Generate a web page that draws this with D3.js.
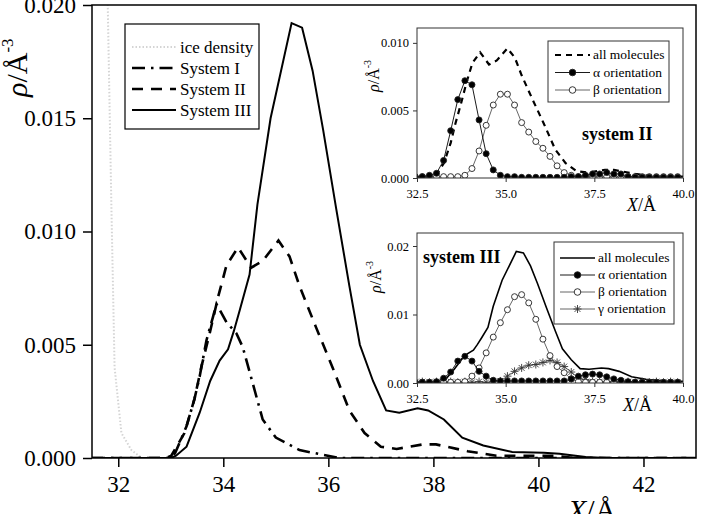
<!DOCTYPE html>
<html>
<head>
<meta charset="utf-8">
<script src="https://cdnjs.cloudflare.com/ajax/libs/d3/7.8.5/d3.min.js"></script>
<style>
  body { margin: 0; background: #fff; }
  svg { font-family: "Liberation Serif", "Times New Roman", serif; }
</style>
</head>
<body>
<svg width="703" height="514"></svg>
<script>
// ---- main plot data (X in angstrom, rho in A^-3) ----
var iceX   = [31.5, 31.7, 31.8, 31.87, 31.93, 32.06, 32.25, 32.45, 33.0];
var iceRho = [0.035, 0.026, 0.020, 0.011, 0.004, 0.0011, 0.00035, 0, 0];

var sys1X   = [31.5, 32.95, 33.08, 33.3, 33.45, 33.55, 33.68, 33.8, 33.87, 34.06, 34.25, 34.37, 34.56, 34.75, 35.0, 35.45, 36.2, 43];
var sys1Rho = [0, 0, 0.0002, 0.0014, 0.0026, 0.0036, 0.0052, 0.0062, 0.0068, 0.0060, 0.0055, 0.0049, 0.0033, 0.0017, 0.0009, 0.00035, 0, 0];

var sys2X   = [31.5, 32.9, 33.01, 33.26, 33.45, 33.58, 33.74, 33.9, 34.06, 34.28, 34.53, 34.75, 35.05, 35.26, 35.45, 35.76, 36.08, 36.4, 36.69, 37.0, 37.3, 37.8, 38.05, 38.65, 39.2, 40.3, 40.7, 43];
var sys2Rho = [0, 0, 0.0001, 0.0011, 0.0026, 0.0040, 0.0055, 0.0071, 0.0085, 0.0093, 0.0084, 0.0087, 0.0096, 0.0089, 0.0076, 0.0058, 0.0040, 0.0021, 0.0011, 0.0005, 0.0004, 0.0006, 0.0006, 0.0003, 0.0001, 0.0001, 0, 0];

var sys3X   = [31.5, 33.0, 33.1, 33.3, 33.55, 33.75, 33.93, 34.09, 34.2, 34.31, 34.5, 34.65, 34.9, 35.3, 35.5, 35.7, 35.9, 36.15, 36.4, 36.6, 36.85, 37.1, 37.35, 37.7, 37.9, 38.2, 38.55, 38.95, 39.5, 40.1, 40.4, 40.9, 41.3, 43];
var sys3Rho = [0, 0, 0.0001, 0.0005, 0.0020, 0.0034, 0.0043, 0.0048, 0.0056, 0.0065, 0.0081, 0.0112, 0.0150, 0.0192, 0.0190, 0.0171, 0.0145, 0.0110, 0.0076, 0.0050, 0.0034, 0.0021, 0.0020, 0.0022, 0.0021, 0.0017, 0.0009, 0.00055, 0.00027, 0.00023, 0.00019, 0.00004, 0, 0];

var mainXTicks = [32, 34, 36, 38, 40, 42];
var mainYTicks = [0, 0.005, 0.010, 0.015, 0.020];
var mainLegend = ["ice density", "System I", "System II", "System III"];

// ---- inset data: orientation-resolved densities on a 0.2 A grid ----
var gridX = [32.45, 32.65, 32.85, 33.05, 33.25, 33.45, 33.65, 33.85, 34.05, 34.25,
             34.45, 34.65, 34.85, 35.05, 35.25, 35.45, 35.65, 35.85, 36.05, 36.25,
             36.45, 36.65, 36.85, 37.05, 37.25, 37.45, 37.65, 37.85, 38.05, 38.25,
             38.45, 38.65, 38.85, 39.05, 39.25, 39.45, 39.65, 39.85];

var alphaII = [0.0001, 0.0001, 0.0002, 0.00035, 0.0013, 0.0035, 0.0058, 0.0072, 0.0069, 0.0043,
               0.0018, 0.0006, 0.0002, 0.0001, 0.0001, 0.00005, 0.00005, 0.00005, 0.00005, 0.00005,
               0.00005, 0.00005, 0.0001, 0.0001, 0.0002, 0.0003, 0.0003, 0.0004, 0.0003, 0.0003,
               0.0001, 0.00005, 0.00005, 0.00005, 0.00005, 0.00005, 0.00005, 0.00005];
var betaII  = [0.0001, 0.0001, 0.0001, 0.0001, 0.0001, 0.0001, 0.0001, 0.0002, 0.0007, 0.0020,
               0.0039, 0.0054, 0.0062, 0.0062, 0.0054, 0.0041, 0.0034, 0.0027, 0.0022, 0.0016,
               0.0009, 0.0004, 0.0002, 0.0001, 0.0001, 0.0001, 0.0001, 0.0001, 0.0001, 0.0001,
               0.0001, 0.0001, 0.0001, 0.0001, 0.0001, 0.0001, 0.0001, 0.0001];

var alphaIII = [0.0001, 0.0001, 0.0001, 0.0002, 0.0007, 0.0016, 0.0032, 0.0039, 0.0032, 0.0017,
                0.0010, 0.0004, 0.0003, 0.0003, 0.0003, 0.0003, 0.0003, 0.0003, 0.0003, 0.0003,
                0.0003, 0.0003, 0.0006, 0.0010, 0.0012, 0.0013, 0.0012, 0.0009, 0.0006, 0.0004,
                0.0002, 0.0001, 0.0001, 0.0001, 0.0001, 0.0001, 0.0001, 0.0001];
var betaIII  = [0.0001, 0.0001, 0.0001, 0.0001, 0.0001, 0.0001, 0.0001, 0.0002, 0.0010, 0.0022,
                0.0044, 0.0067, 0.0088, 0.0107, 0.0126, 0.0129, 0.0117, 0.0093, 0.0064, 0.0040,
                0.0024, 0.0015, 0.0006, 0.0002, 0.0001, 0.0001, 0.0001, 0.0001, 0.0001, 0.0001,
                0.0001, 0.0001, 0.0001, 0.0001, 0.0001, 0.0001, 0.0001, 0.0001];
var gammaIII = [0.0001, 0.0002, 0.0001, 0.0002, 0.0001, 0.0002, 0.0001, 0.0002, 0.0001, 0.0002,
                0.0001, 0.0002, 0.0003, 0.0010, 0.0017, 0.0022, 0.0026, 0.0027, 0.0030, 0.0033,
                0.0030, 0.0024, 0.0016, 0.0007, 0.0005, 0.0002, 0.0002, 0.0001, 0.0002, 0.0001,
                0.0002, 0.0001, 0.0002, 0.0001, 0.0002, 0.0001, 0.0002, 0.0001];

var insetXTicks = [32.5, 35.0, 37.5, 40.0];
var insetIIYTicks = [0, 0.005, 0.010];
var insetIIIYTicks = [0, 0.01, 0.02];
var insetIILegend = ["all molecules", "\u03b1 orientation", "\u03b2 orientation"];
var insetIIILegend = ["all molecules", "\u03b1 orientation", "\u03b2 orientation", "\u03b3 orientation"];

var svg = d3.select("svg");
var defs = svg.append("defs");

function pairs(xs, ys) { return d3.zip(xs, ys); }

function clip(id, x0, y0, w, h) {
  defs.append("clipPath").attr("id", id).append("rect")
    .attr("x", x0).attr("y", y0).attr("width", w).attr("height", h);
  return "url(#" + id + ")";
}

var asterisk = "M-4,0H4M0,-4V4M-2.9,-2.9L2.9,2.9M-2.9,2.9L2.9,-2.9";

// ================= main plot =================
var mLeft = 92, mRight = 696, mTop = 5, mBottom = 458;
var x = d3.scaleLinear().domain([31.5, 43]).range([mLeft, mRight]);
var y = d3.scaleLinear().domain([0, 0.020]).range([mBottom, mTop]);

var xAxis = svg.append("g").attr("transform", "translate(0," + mBottom + ")")
  .call(d3.axisBottom(x).tickValues(mainXTicks).tickSize(9).tickPadding(9).tickFormat(d3.format("d")));
var yAxis = svg.append("g").attr("transform", "translate(" + mLeft + ",0)")
  .call(d3.axisLeft(y).tickValues(mainYTicks).tickSize(9).tickPadding(7).tickFormat(d3.format(".3f")));
[xAxis, yAxis].forEach(function (a) {
  a.select(".domain").remove();
  a.selectAll("line").attr("stroke", "#000").attr("stroke-width", 1.5);
  a.selectAll("text").attr("font-size", 23).attr("fill", "#000").attr("font-family", "Liberation Serif");
});

var mainClip = clip("mainClip", mLeft, mTop, mRight - mLeft, mBottom - mTop);
var line = d3.line().x(function (d) { return x(d[0]); }).y(function (d) { return y(d[1]); });
var curves = svg.append("g").attr("clip-path", mainClip).attr("fill", "none");

curves.append("path").attr("d", line(pairs(iceX, iceRho)))
  .attr("stroke", "#d4d4d4").attr("stroke-width", 2).attr("stroke-dasharray", "1.5,2");
curves.append("path").attr("d", line(pairs(sys1X, sys1Rho)))
  .attr("stroke", "#000").attr("stroke-width", 2.6).attr("stroke-dasharray", "13,6,2.5,6");
curves.append("path").attr("d", line(pairs(sys2X, sys2Rho)))
  .attr("stroke", "#000").attr("stroke-width", 2.6).attr("stroke-dasharray", "11,8");
curves.append("path").attr("d", line(pairs(sys3X, sys3Rho)))
  .attr("stroke", "#000").attr("stroke-width", 2);

svg.append("rect").attr("x", mLeft).attr("y", mTop).attr("width", mRight - mLeft).attr("height", mBottom - mTop)
  .attr("fill", "none").attr("stroke", "#000").attr("stroke-width", 1.5);

// axis titles
var yt = svg.append("text").attr("transform", "translate(27,97) rotate(-90)").attr("font-size", 30);
yt.append("tspan").attr("font-style", "italic").text("\u03c1");
yt.append("tspan").text("/\u00c5");
yt.append("tspan").attr("font-size", 17).attr("dy", -14).text("-3");

var xt = svg.append("text").attr("x", 568).attr("y", 520).attr("font-size", 30);
xt.append("tspan").attr("font-style", "italic").text("X");
xt.append("tspan").text("/\u00c5");

// main legend
var lg = svg.append("g");
lg.append("rect").attr("x", 125).attr("y", 24).attr("width", 134).attr("height", 105)
  .attr("fill", "#fff").attr("stroke", "#000").attr("stroke-width", 1.2);
var legStyles = [
  { stroke: "#d4d4d4", dash: "1.5,2", w: 2 },
  { stroke: "#000", dash: "13,6,2.5,6", w: 2.6 },
  { stroke: "#000", dash: "11,8", w: 2.6 },
  { stroke: "#000", dash: null, w: 2 }
];
mainLegend.forEach(function (name, i) {
  var cy = 47 + i * 21;
  lg.append("line").attr("x1", 132).attr("x2", 176).attr("y1", cy).attr("y2", cy)
    .attr("stroke", legStyles[i].stroke).attr("stroke-width", legStyles[i].w)
    .attr("stroke-dasharray", legStyles[i].dash);
  lg.append("text").attr("x", 180).attr("y", cy).attr("dy", "0.33em").attr("font-size", 17).text(name);
});

// ================= insets =================
function makeInset(id, x0, x1, y0, y1, yMax, yTicks, yFmt) {
  var g = svg.append("g");
  var sx = d3.scaleLinear().domain([32.5, 40]).range([x0, x1]);
  var sy = d3.scaleLinear().domain([0, yMax]).range([y1, y0]);
  g.append("rect").attr("x", x0).attr("y", y0).attr("width", x1 - x0).attr("height", y1 - y0).attr("fill", "#fff");
  var ax = g.append("g").attr("transform", "translate(0," + y1 + ")")
    .call(d3.axisBottom(sx).tickValues(insetXTicks).tickSize(4).tickPadding(7).tickFormat(d3.format(".1f")));
  var ay = g.append("g").attr("transform", "translate(" + x0 + ",0)")
    .call(d3.axisLeft(sy).tickValues(yTicks).tickSize(4).tickPadding(4).tickFormat(d3.format(yFmt)));
  [ax, ay].forEach(function (a) {
    a.select(".domain").remove();
    a.selectAll("line").attr("stroke", "#333");
    a.selectAll("text").attr("font-size", 12.5).attr("fill", "#000").attr("font-family", "Liberation Serif");
  });
  var body = g.append("g").attr("clip-path", clip(id, x0, y0, x1 - x0, y1 - y0));
  g.append("rect").attr("x", x0).attr("y", y0).attr("width", x1 - x0).attr("height", y1 - y0)
    .attr("fill", "none").attr("stroke", "#333").attr("stroke-width", 1);
  var ln = d3.line().x(function (d) { return sx(d[0]); }).y(function (d) { return sy(d[1]); });
  return { g: g, body: body, x: sx, y: sy, line: ln };
}

function markers(inset, ys, kind, lineColor) {
  var pts = pairs(gridX, ys);
  inset.body.append("path").attr("d", inset.line(pts)).attr("fill", "none")
    .attr("stroke", lineColor).attr("stroke-width", 0.9);
  var sel = inset.body.selectAll(null).data(pts).enter();
  if (kind === "star") {
    sel.append("path").attr("d", asterisk)
      .attr("transform", function (d) { return "translate(" + inset.x(d[0]) + "," + inset.y(d[1]) + ")"; })
      .attr("stroke", "#333").attr("stroke-width", 0.9).attr("fill", "none");
  } else {
    sel.append("circle").attr("cx", function (d) { return inset.x(d[0]); })
      .attr("cy", function (d) { return inset.y(d[1]); }).attr("r", 3)
      .attr("fill", kind === "filled" ? "#000" : "#fff").attr("stroke", "#222").attr("stroke-width", 0.9);
  }
}

function legendMarker(g, kind, cx, cy) {
  if (kind === "star") {
    g.append("path").attr("d", asterisk).attr("transform", "translate(" + cx + "," + cy + ")")
      .attr("stroke", "#333").attr("stroke-width", 0.9).attr("fill", "none");
  } else {
    g.append("circle").attr("cx", cx).attr("cy", cy).attr("r", 3.3)
      .attr("fill", kind === "filled" ? "#000" : "#fff").attr("stroke", "#222").attr("stroke-width", 0.9);
  }
}

function insetTitles(xLabelX, xLabelY, yLabelX, yLabelY) {
  var t = svg.append("text").attr("transform", "translate(" + yLabelX + "," + yLabelY + ") rotate(-90)").attr("font-size", 16);
  t.append("tspan").attr("font-style", "italic").text("\u03c1");
  t.append("tspan").text("/\u00c5");
  t.append("tspan").attr("font-size", 10).attr("dy", -8).text("-3");
  var u = svg.append("text").attr("x", xLabelX).attr("y", xLabelY).attr("font-size", 18);
  u.append("tspan").attr("font-style", "italic").text("X");
  u.append("tspan").text("/\u00c5");
}

// inset: system II
var i2 = makeInset("clipII", 417, 683, 28, 178, 0.0111, insetIIYTicks, ".3f");
i2.body.append("path").attr("d", i2.line(pairs(sys2X, sys2Rho))).attr("fill", "none")
  .attr("stroke", "#000").attr("stroke-width", 2.2).attr("stroke-dasharray", "6,5");
markers(i2, betaII, "open", "#555");
markers(i2, alphaII, "filled", "#000");
insetTitles(627, 211, 379, 92);
i2.g.append("text").attr("x", 582).attr("y", 140).attr("font-size", 18).attr("font-weight", "bold").text("system II");

var l2 = i2.g.append("g");
l2.append("rect").attr("x", 548).attr("y", 41).attr("width", 121).attr("height", 61)
  .attr("fill", "#fff").attr("stroke", "#333").attr("stroke-width", 1);
var l2Kinds = ["dash", "filled", "open"];
insetIILegend.forEach(function (name, i) {
  var cy = 55 + i * 17.5;
  var ln = l2.append("line").attr("x1", 555).attr("x2", 590).attr("y1", cy).attr("y2", cy).attr("stroke", "#000");
  if (l2Kinds[i] === "dash") ln.attr("stroke-width", 2.2).attr("stroke-dasharray", "6,5");
  else { ln.attr("stroke-width", 0.9).attr("stroke", i === 2 ? "#555" : "#000"); legendMarker(l2, l2Kinds[i], 572.5, cy); }
  l2.append("text").attr("x", 593).attr("y", cy).attr("dy", "0.33em").attr("font-size", 13.5).text(name);
});

// inset: system III
var i3 = makeInset("clipIII", 417, 683, 233, 383, 0.0219, insetIIIYTicks, ".2f");
i3.body.append("path").attr("d", i3.line(pairs(sys3X, sys3Rho))).attr("fill", "none")
  .attr("stroke", "#000").attr("stroke-width", 1.6);
markers(i3, gammaIII, "star", "#555");
markers(i3, betaIII, "open", "#555");
markers(i3, alphaIII, "filled", "#000");
insetTitles(623, 411, 381, 293);
i3.g.append("text").attr("x", 423).attr("y", 263).attr("font-size", 18).attr("font-weight", "bold").text("system III");

var l3 = i3.g.append("g");
l3.append("rect").attr("x", 554).attr("y", 242).attr("width", 120).attr("height", 82)
  .attr("fill", "#fff").attr("stroke", "#333").attr("stroke-width", 1);
var l3Kinds = ["solid", "filled", "open", "star"];
insetIIILegend.forEach(function (name, i) {
  var cy = 258 + i * 17;
  var ln = l3.append("line").attr("x1", 560).attr("x2", 595).attr("y1", cy).attr("y2", cy).attr("stroke", "#000");
  if (l3Kinds[i] === "solid") ln.attr("stroke-width", 1.6);
  else { ln.attr("stroke-width", 0.9).attr("stroke", i === 1 ? "#000" : "#555"); legendMarker(l3, l3Kinds[i], 577.5, cy); }
  l3.append("text").attr("x", 598).attr("y", cy).attr("dy", "0.33em").attr("font-size", 13.5).text(name);
});
</script>
</body>
</html>
